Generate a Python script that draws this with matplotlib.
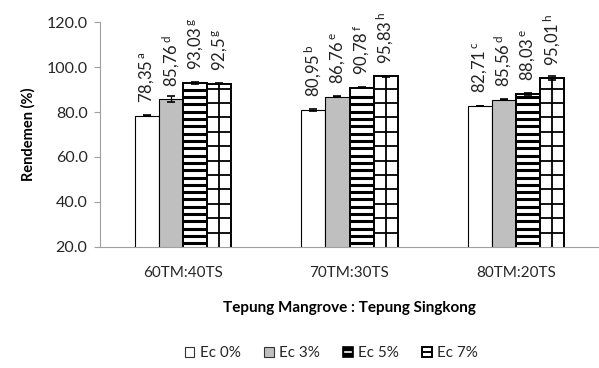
import matplotlib
matplotlib.use("Agg")
import matplotlib.pyplot as plt
from matplotlib.patches import Rectangle
from matplotlib.lines import Line2D
from matplotlib.legend_handler import HandlerBase
import numpy as np

plt.rcParams['font.family'] = ['Lato', 'DejaVu Sans']
plt.rcParams['mathtext.fontset'] = 'custom'
plt.rcParams['mathtext.rm'] = 'Lato'

categories = ["60TM:40TS", "70TM:30TS", "80TM:20TS"]
series = ["Ec 0%", "Ec 3%", "Ec 5%", "Ec 7%"]
values = {
    "Ec 0%": [78.35, 80.95, 82.71],
    "Ec 3%": [85.76, 86.76, 85.56],
    "Ec 5%": [93.03, 90.78, 88.03],
    "Ec 7%": [92.5, 95.83, 95.01],
}
errors = {
    "Ec 0%": [0.3, 0.4, 0.1],
    "Ec 3%": [1.5, 0.2, 0.4],
    "Ec 5%": [0.5, 0.2, 0.4],
    "Ec 7%": [0.2, 0.2, 0.8],
}
value_text = {
    "Ec 0%": ["78,35", "80,95", "82,71"],
    "Ec 3%": ["85,76", "86,76", "85,56"],
    "Ec 5%": ["93,03", "90,78", "88,03"],
    "Ec 7%": ["92,5", "95,83", "95,01"],
}
letters = {
    "Ec 0%": ["a", "b", "c"],
    "Ec 3%": ["d", "e", "d"],
    "Ec 5%": ["g", "f", "e"],
    "Ec 7%": ["g", "h", "h"],
}
yticks = [20.0, 40.0, 60.0, 80.0, 100.0, 120.0]

face = {"Ec 0%": "white", "Ec 3%": "#bfbfbf", "Ec 5%": "white", "Ec 7%": "white"}
fill_kind = {"Ec 0%": "plain", "Ec 3%": "plain", "Ec 5%": "stripes", "Ec 7%": "grid"}

fig = plt.figure(figsize=(5.99, 3.68), dpi=100)
ax = fig.add_axes([0.167, 0.329, 0.833, 0.611])
ymin, ymax = 20, 120

x = np.arange(len(categories))
w = 0.145
for i, s in enumerate(series):
    pos = x + (i - 1.5) * w
    kind = fill_kind[s]
    ax.bar(pos, values[s], width=w, facecolor=face[s], edgecolor="black",
           linewidth=0.8 if kind == "plain" else 1.4, zorder=2)
    # pattern fill drawn as line work inside each bar
    for p, v in zip(pos, values[s]):
        left, right = p - w / 2, p + w / 2
        if kind == "stripes":
            ys = np.arange(ymin + 1.6, v - 1.0, 3.25)
            ax.hlines(ys, left, right, colors="black", linewidth=2.2, zorder=2.5)
        elif kind == "grid":
            ys = np.arange(ymin + 6.4, v - 1.0, 6.4)
            ax.hlines(ys, left, right, colors="black", linewidth=1.3, zorder=2.5)
            ax.vlines([p], ymin, v, colors="black", linewidth=1.3, zorder=2.5)
    ax.errorbar(pos, values[s], yerr=errors[s], fmt="none", ecolor="black",
                elinewidth=0.9, capsize=3, capthick=1.2, zorder=3)
    for p, v, t, l in zip(pos, values[s], value_text[s], letters[s]):
        ax.annotate(t + r"$\mathregular{^{\," + l + "}}$", (p, v),
                    xytext=(0, 9), textcoords="offset points",
                    rotation=90, ha="center", va="bottom",
                    fontsize=12, color="#222222")

ax.set_ylim(ymin, ymax)
ax.set_xlim(-0.5, 2.5)
ax.set_yticks(yticks)
ax.set_yticklabels([f"{t:.1f}" for t in yticks], fontsize=11.5, color="#262626")
ax.set_xticks(x)
ax.set_xticklabels(categories, fontsize=11, color="#262626")
ax.tick_params(axis="x", length=0, pad=14)
ax.tick_params(axis="y", length=4, color="#a0a0a0", pad=5)
for sp in ["top", "right"]:
    ax.spines[sp].set_visible(False)
for sp in ["left", "bottom"]:
    ax.spines[sp].set_color("#a0a0a0")
ax.set_ylabel("Rendemen (%)", fontsize=10.5, fontweight="bold", labelpad=8)
ax.set_xlabel("Tepung Mangrove : Tepung Singkong", fontsize=11,
              fontweight="bold", labelpad=15)


class SwatchHandler(HandlerBase):
    def __init__(self, fc, kind):
        super().__init__()
        self.fc = fc
        self.kind = kind

    def create_artists(self, legend, orig_handle, xdescent, ydescent,
                       width, height, fontsize, trans):
        s = min(width, height)
        x0 = -xdescent + (width - s) / 2
        y0 = -ydescent
        arts = []
        if self.kind == "stripes":
            arts.append(Rectangle((x0, y0), s, s, facecolor="black",
                                  edgecolor="black", lw=1.2, transform=trans))
            arts.append(Line2D([x0 + 1.5, x0 + s - 1.5], [y0 + s / 2] * 2,
                               color="white", lw=1.2, transform=trans))
        elif self.kind == "grid":
            arts.append(Rectangle((x0, y0), s, s, facecolor="white",
                                  edgecolor="black", lw=1.4, transform=trans))
            arts.append(Line2D([x0, x0 + s], [y0 + s / 2] * 2,
                               color="black", lw=1.4, transform=trans))
        else:
            arts.append(Rectangle((x0, y0), s, s, facecolor=self.fc,
                                  edgecolor="#333333", lw=0.8, transform=trans))
        return arts


handles = [Rectangle((0, 0), 1, 1) for _ in series]
handler_map = {h: SwatchHandler(face[s], fill_kind[s]) for h, s in zip(handles, series)}
leg = fig.legend(handles, series, handler_map=handler_map, loc="center",
                 bbox_to_anchor=(0.553, 0.04), ncol=4, frameon=False,
                 fontsize=11, handlelength=0.65, handleheight=0.65,
                 handletextpad=0.35, columnspacing=1.5)
for t in leg.get_texts():
    t.set_color("#262626")

fig.savefig("out.png", dpi=100)
